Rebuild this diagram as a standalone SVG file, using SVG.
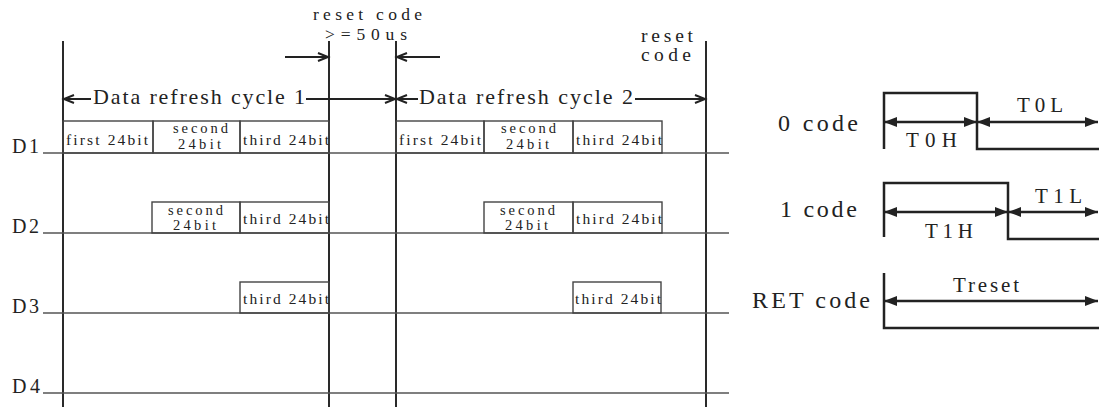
<svg xmlns="http://www.w3.org/2000/svg" width="1099" height="407" viewBox="0 0 1099 407">
<style>
text{font-family:"Liberation Serif","Times New Roman",serif;fill:#222}
.t14{font-size:15.5px}.t13{font-size:14.5px}.t17{font-size:19.5px}.t16{font-size:17.5px}.t18{font-size:20px}.t20{font-size:22px}.t19{font-size:21px}.t22{font-size:24px}
.v{stroke:#2a2a2a;stroke-width:2;fill:none}
.h{stroke:#555;stroke-width:1.6;fill:none}
.box{stroke:#444;stroke-width:1.4;fill:none}
.arr{stroke:#222;stroke-width:2;fill:none}
.wave{stroke:#222;stroke-width:2.5;fill:none}
.darr{stroke:#222;stroke-width:2.5;fill:none;marker-start:url(#fa);marker-end:url(#fa)}
</style>
<defs>
<marker id="oa" markerUnits="userSpaceOnUse" markerWidth="12" markerHeight="10" refX="10" refY="4.5" orient="auto-start-reverse" overflow="visible">
<path d="M0,0.5 L10,4.5 L0,8.5" fill="none" stroke="#222" stroke-width="2"/>
</marker>
<marker id="fa" markerUnits="userSpaceOnUse" markerWidth="14" markerHeight="11" refX="13" refY="5" orient="auto-start-reverse" overflow="visible">
<path d="M0,0 L13,5 L0,10 z" fill="#222"/>
</marker>
</defs>
<rect width="1099" height="407" fill="#fff"/>

<g id="connectors">
<line class="v" x1="63" y1="41" x2="63" y2="407"/>
<line class="v" x1="329" y1="41" x2="329" y2="407"/>
<line class="v" x1="396" y1="41" x2="396" y2="407"/>
<line class="v" x1="706" y1="41" x2="706" y2="407"/>
<line class="h" x1="43" y1="153" x2="729" y2="153"/>
<line class="h" x1="43" y1="233" x2="729" y2="233"/>
<line class="h" x1="43" y1="313" x2="729" y2="313"/>
<line class="h" x1="43" y1="393" x2="729" y2="393"/>
<line class="arr" x1="285" y1="57" x2="328" y2="57" marker-end="url(#oa)"/>
<line class="arr" x1="440" y1="57" x2="397" y2="57" marker-end="url(#oa)"/>
<line class="arr" x1="91" y1="99" x2="64" y2="99" marker-end="url(#oa)"/>
<line class="arr" x1="306" y1="99" x2="395" y2="99" marker-end="url(#oa)"/>
<line class="arr" x1="418" y1="99" x2="397" y2="99" marker-end="url(#oa)"/>
<line class="arr" x1="635" y1="99" x2="705" y2="99" marker-end="url(#oa)"/>
</g>

<g id="labels-top">
<text class="t16" x="313" y="19.5" textLength="109" lengthAdjust="spacing">reset code</text>
<text class="t16" x="325" y="39.5" textLength="82" lengthAdjust="spacing">&gt;=50us</text>
<text class="t17" x="641" y="42" textLength="52" lengthAdjust="spacing">reset</text>
<text class="t17" x="641" y="61" textLength="50" lengthAdjust="spacing">code</text>
<text class="t20" x="93" y="104" textLength="212" lengthAdjust="spacing">Data refresh cycle 1</text>
<text class="t20" x="419" y="104" textLength="214" lengthAdjust="spacing">Data refresh cycle 2</text>
</g>

<g id="D1">
<text class="t18" x="12" y="153" textLength="27" lengthAdjust="spacing">D1</text>
<rect class="box" x="63" y="121" width="90" height="32"/>
<rect class="box" x="153" y="121" width="87" height="32"/>
<rect class="box" x="240" y="121" width="89" height="32"/>
<text class="t14" x="66" y="145" textLength="82" lengthAdjust="spacing">first 24bit</text>
<text class="t13" x="173" y="133" textLength="55" lengthAdjust="spacing">second</text>
<text class="t13" x="178" y="149" textLength="43" lengthAdjust="spacing">24bit</text>
<text class="t14" x="243" y="145" textLength="86" lengthAdjust="spacing">third 24bit</text>
<rect class="box" x="396" y="121" width="88" height="32"/>
<rect class="box" x="484" y="121" width="89" height="32"/>
<rect class="box" x="573" y="121" width="89" height="32"/>
<text class="t14" x="399" y="145" textLength="82" lengthAdjust="spacing">first 24bit</text>
<text class="t13" x="501" y="133" textLength="55" lengthAdjust="spacing">second</text>
<text class="t13" x="506" y="149" textLength="43" lengthAdjust="spacing">24bit</text>
<text class="t14" x="576" y="145" textLength="86" lengthAdjust="spacing">third 24bit</text>
</g>

<g id="D2">
<text class="t18" x="12" y="233" textLength="27" lengthAdjust="spacing">D2</text>
<rect class="box" x="152" y="202" width="88" height="31"/>
<rect class="box" x="240" y="202" width="89" height="31"/>
<text class="t13" x="168" y="215" textLength="55" lengthAdjust="spacing">second</text>
<text class="t13" x="173" y="230" textLength="43" lengthAdjust="spacing">24bit</text>
<text class="t14" x="243" y="224" textLength="86" lengthAdjust="spacing">third 24bit</text>
<rect class="box" x="484" y="202" width="89" height="31"/>
<rect class="box" x="573" y="202" width="89" height="31"/>
<text class="t13" x="500" y="215" textLength="55" lengthAdjust="spacing">second</text>
<text class="t13" x="505" y="230" textLength="43" lengthAdjust="spacing">24bit</text>
<text class="t14" x="576" y="224" textLength="86" lengthAdjust="spacing">third 24bit</text>
</g>

<g id="D3">
<text class="t18" x="12" y="313" textLength="27" lengthAdjust="spacing">D3</text>
<rect class="box" x="240" y="282" width="89" height="31"/>
<text class="t14" x="243" y="304" textLength="86" lengthAdjust="spacing">third 24bit</text>
<rect class="box" x="573" y="282" width="88" height="31"/>
<text class="t14" x="575" y="304" textLength="86" lengthAdjust="spacing">third 24bit</text>
</g>

<g id="D4">
<text class="t18" x="12" y="393" textLength="28" lengthAdjust="spacing">D4</text>
</g>

<g id="code0">
<text class="t22" x="778" y="131" textLength="80" lengthAdjust="spacing">0 code</text>
<path class="wave" d="M884,149 V93 H977 V149 H1099"/>
<line class="darr" x1="884" y1="122" x2="977" y2="122"/>
<line class="darr" x1="977" y1="122" x2="1098" y2="122"/>
<text class="t19" x="906" y="147" textLength="51" lengthAdjust="spacing">T0H</text>
<text class="t19" x="1017" y="112" textLength="46" lengthAdjust="spacing">T0L</text>
</g>

<g id="code1">
<text class="t22" x="780" y="217" textLength="77" lengthAdjust="spacing">1 code</text>
<path class="wave" d="M884,237 V183 H1008 V239 H1099"/>
<line class="darr" x1="884" y1="212" x2="1008" y2="212"/>
<line class="darr" x1="1008" y1="212" x2="1098" y2="212"/>
<text class="t19" x="925" y="238" textLength="48" lengthAdjust="spacing">T1H</text>
<text class="t19" x="1035" y="203" textLength="47" lengthAdjust="spacing">T1L</text>
</g>

<g id="ret">
<text class="t22" x="752" y="308" textLength="118" lengthAdjust="spacing">RET code</text>
<path class="wave" d="M884,273 V328 H1099"/>
<line class="darr" x1="884" y1="301" x2="1098" y2="301"/>
<text class="t19" x="953" y="292" textLength="66" lengthAdjust="spacing">Treset</text>
</g>
</svg>
